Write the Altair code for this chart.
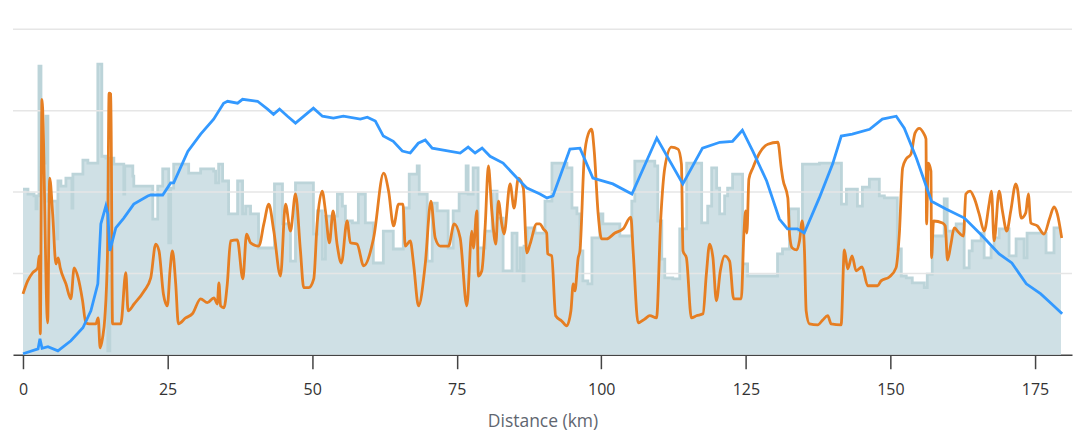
import altair as alt
import pandas as pd

# ---- grey step area (e.g. heart-rate / cadence band), value in % of chart height ----
band_km = [0.0, 0.86, 1.90, 2.24, 2.42, 2.76, 3.11, 3.97, 4.31, 5.87, 6.04, 6.56, 7.42, 8.46, 8.63,
           10.36, 11.22, 12.94, 13.63, 14.33, 14.67, 15.02, 15.71, 17.43, 17.60, 18.99, 19.16, 22.44,
           23.30, 24.16, 25.20, 25.54, 26.06, 28.65, 30.72, 32.97, 33.31, 33.83, 34.52, 35.55, 37.11,
           37.97, 38.49, 39.35, 40.73, 43.49, 44.87, 46.25, 47.12, 50.22, 50.91, 51.78, 52.30, 54.37,
           55.23, 55.75, 56.96, 57.99, 59.20, 60.58, 62.31, 64.03, 65.76, 66.79, 68.17, 68.52, 69.90,
           70.76, 71.63, 73.52, 74.39, 75.42, 76.63, 76.98, 77.84, 78.70, 79.91, 81.12, 81.98, 83.02,
           84.57, 85.43, 85.95, 86.47, 86.64, 87.16, 88.54, 90.27, 91.47, 94.06, 94.93, 95.79, 96.31,
           96.82, 97.69, 98.38, 99.76, 100.28, 103.21, 105.28, 105.80, 109.25, 109.77, 110.46, 110.98,
           112.36, 113.57, 114.77, 117.36, 118.40, 119.09, 119.95, 120.47, 121.33, 121.85, 122.71,
           124.44, 125.30, 130.48, 131.34, 132.55, 134.10, 134.79, 137.73, 141.53, 142.39, 144.29,
           145.15, 146.36, 148.08, 148.95, 151.19, 151.88, 152.74, 153.78, 155.85, 156.37, 157.23,
           159.30, 159.82, 161.37, 162.75, 163.62, 164.14, 165.69, 166.21, 167.41, 167.93, 168.80,
           170.52, 171.73, 173.11, 173.63, 176.91, 178.29, 179.50]
band_val = [50.9, 49.4, 48.8, 44.8, 48.8, 88.7, 58.9, 73.3, 47.2, 35.6, 53.4, 51.8, 54.3, 45.1, 55.5,
            59.8, 58.9, 89.3, 61.0, 60.4, 1.2, 60.4, 58.6, 49.4, 58.0, 54.9, 51.8, 41.7,
            51.8, 57.1, 34.4, 51.2, 58.6, 55.8, 57.1, 56.4, 52.8, 58.6, 53.4, 43.3, 53.4,
            43.3, 45.7, 43.3, 32.8, 52.5, 40.2, 28.8, 52.8, 37.1, 44.2, 29.4, 42.6, 49.4,
            45.7, 41.1, 40.5, 49.4, 40.5, 28.2, 38.0, 32.5, 45.1, 55.5, 58.0, 49.4, 28.8,
            46.6, 44.2, 32.8, 44.2, 49.7, 58.0, 49.4, 57.4, 32.8, 38.0, 50.3, 42.0, 25.8,
            37.4, 25.8, 32.8, 22.7, 33.4, 39.0, 37.4, 47.2, 58.9, 57.4, 45.1, 43.3, 31.9,
            22.7, 21.8, 35.9, 43.3, 40.2, 36.5, 47.2, 59.5, 58.0, 41.1, 29.4, 23.6,
            23.3, 38.7, 58.9, 40.5, 45.7, 57.4, 51.2, 43.3, 48.8, 51.2, 55.5,
            27.9, 24.2, 31.0, 32.5, 44.8, 38.0, 58.6, 58.9, 46.3, 50.9, 45.7,
            51.5, 54.0, 48.8, 48.2, 32.5, 24.2, 23.6, 22.1, 20.6, 24.8, 36.5,
            47.9, 38.0, 40.2, 26.7, 31.9, 35.0, 37.4, 29.8, 32.8, 35.9, 38.7,
            30.4, 35.6, 29.8, 37.4, 31.3, 39.0, 39.0]

# ---- blue line (elevation) ----
elev_km = [0.0, 2.6, 2.93, 3.3, 4.31, 6.04, 8.28, 10.36, 11.74, 12.94, 13.46, 14.33, 14.67, 15.02,
           16.05, 17.43, 19.16, 21.57, 22.09, 24.16, 25.54, 26.06, 28.5, 30.72, 32.97, 34.69, 35.38,
           37.11, 37.97, 40.56, 42.29, 43.32, 44.36, 45.74, 47.12, 50.22, 51.78, 53.68, 55.40, 58.34,
           59.54, 60.93, 62.31, 64.03, 65.59, 66.97, 68.35, 69.56, 70.76, 75.60, 76.98, 78.18, 79.39,
           80.77, 83.02, 85.43, 87.16, 89.40, 90.61, 91.65, 94.58, 96.31, 98.55, 102.0, 105.3, 109.6,
           114.1, 117.5, 120.5, 122.7, 124.4, 126.2, 128.6, 130.8, 132.2, 133.9, 135.1, 137.7, 140.0,
           141.5, 143.4, 146.4, 148.6, 151.0, 152.4, 154.5, 157.1, 159.6, 162.8, 165.9, 168.8, 171.0,
           173.5, 176.0, 177.9, 179.7]
elev_val = [0.3, 1.8, 4.9, 2.0, 2.5, 1.2, 4.3, 8.3, 13.5, 21.8, 40.2, 45.7, 43.3, 31.9,
            39.0, 42.0, 46.3, 48.8, 49.1, 49.1, 52.8, 52.8, 62.5, 67.8, 72.4, 77.3, 77.9,
            77.3, 78.5, 77.9, 75.5, 73.9, 75.5, 73.3, 71.2, 75.8, 73.3, 72.7, 73.3, 72.4,
            73.0, 71.8, 67.2, 65.6, 62.6, 62.0, 65.0, 66.0, 63.5, 62.0, 63.8, 62.0, 63.5,
            61.0, 58.9, 54.3, 51.2, 49.4, 48.2, 48.8, 63.2, 63.5, 54.3, 52.5, 49.4, 66.6,
            52.5, 63.5, 65.3, 65.6, 69.0, 62.6, 53.4, 41.7, 38.7, 38.7, 37.4, 48.2, 58.6,
            67.2, 67.8, 69.3, 72.4, 73.3, 69.6, 60.4, 47.2, 44.8, 42.0, 36.5, 31.0, 28.2,
            21.8, 18.7, 15.6, 12.6]

# ---- orange line (speed) ----
speed_km = [0.0, 0.81, 1.67, 2.54, 2.81, 2.99, 3.28, 4.26, 4.61, 5.13, 5.70, 6.09, 6.44, 7.42, 8.28,
            8.85, 9.54, 10.30, 10.87, 11.44, 12.60, 13.00, 13.34, 13.76, 14.15, 14.62, 14.89, 15.19,
            15.48, 16.91, 17.78, 18.17, 19.21, 20.94, 22.09, 22.95, 23.52, 24.28, 24.97, 25.42, 25.84,
            26.41, 26.87, 28.13, 29.29, 30.72, 31.88, 33.02, 33.60, 33.88, 34.17, 34.74, 35.33, 35.90,
            37.06, 38.02, 38.66, 39.35, 40.78, 41.65, 42.51, 43.37, 44.53, 45.39, 46.25, 47.12, 47.98,
            48.55, 49.41, 50.28, 50.86, 51.73, 52.30, 52.99, 53.62, 54.31, 55.06, 56.04, 56.61, 57.77,
            58.91, 60.63, 62.36, 63.22, 64.08, 64.95, 65.71, 66.10, 66.97, 67.54, 68.40, 69.56, 70.54,
            71.28, 72.14, 73.58, 74.56, 75.60, 76.75, 77.61, 77.89, 78.48, 78.75, 79.34, 79.91, 80.48,
            81.07, 81.76, 82.21, 82.79, 83.19, 84.23, 84.92, 85.66, 86.52, 87.11, 87.68, 88.83, 89.40,
            89.97, 90.56, 90.73, 91.42, 92.11, 93.15, 94.01, 94.75, 95.15, 95.44, 96.01, 96.31, 97.05,
            97.74, 98.33, 98.78, 99.46, 100.05, 100.91, 102.35, 103.78, 105.11, 105.51, 106.37, 107.53,
            108.39, 109.55, 110.29, 110.98, 112.13, 113.27, 113.86, 114.13, 114.72, 115.58, 116.45,
            117.59, 118.17, 118.74, 119.31, 119.90, 120.59, 121.33, 122.19, 122.89, 124.21, 124.66,
            124.96, 125.18, 125.53, 126.21, 127.37, 128.81, 130.53, 131.12, 131.40, 132.26, 132.55,
            133.02, 133.81, 134.28, 134.74, 135.14, 135.43, 136.00, 137.43, 138.30, 139.16, 139.75,
            141.47, 142.04, 142.61, 143.37, 144.06, 145.10, 146.07, 147.79, 148.38, 149.81, 150.97,
            151.54, 152.11, 152.70, 153.56, 154.25, 154.99, 155.73, 156.15, 156.25, 156.54, 157.01,
            157.11, 157.46, 159.01, 159.48, 159.87, 160.46, 161.03, 161.89, 162.63, 163.04, 163.79,
            164.48, 165.34, 166.21, 167.07, 167.47, 167.93, 168.80, 169.37, 170.12, 170.81, 171.68,
            171.95, 172.64, 173.40, 173.85, 174.27, 175.41, 176.56, 177.55, 178.29, 178.86, 179.62]
speed_val = [18.7, 22.7, 25.2, 26.7, 30.4, 6.4, 78.5, 9.8, 54.3, 43.3, 27.9, 29.8, 26.7, 21.8, 17.2,
             26.7, 23.6, 16.6, 9.8, 9.5, 9.5, 11.3, 2.1, 5.2, 11.3, 31.9, 80.4, 80.1,
             9.5, 9.5, 25.2, 13.5, 15.6, 19.6, 23.6, 34.0, 31.9, 18.7, 15.0, 25.8, 31.9,
             21.8, 9.5, 11.3, 12.6, 17.2, 16.0, 17.5, 15.6, 22.1, 15.0, 14.4, 21.8, 35.0,
             35.3, 23.3, 37.1, 34.4, 33.4, 40.2, 46.3, 38.0, 24.2, 46.3, 38.0, 49.4, 31.9,
             20.6, 20.6, 23.3, 40.2, 50.3, 44.2, 34.4, 44.2, 34.0, 28.2, 41.1, 34.4, 34.0,
             27.3, 35.9, 55.8, 50.3, 39.6, 46.3, 46.3, 33.4, 35.0, 27.9, 15.0, 27.9, 47.2,
             35.9, 33.4, 33.4, 40.2, 35.9, 15.0, 38.0, 32.8, 44.2, 24.2, 25.8, 39.0, 58.0,
             44.2, 34.0, 47.2, 40.2, 37.1, 52.5, 45.1, 54.3, 51.2, 31.3, 34.0, 40.2, 40.2,
             38.7, 37.4, 31.0, 30.4, 12.0, 10.4, 8.9, 13.5, 21.8, 19.6, 29.8, 31.9, 60.4,
             67.8, 69.3, 62.6, 43.3, 35.6, 35.6, 37.4, 38.7, 42.3, 31.9, 9.8, 11.0,
             12.0, 11.3, 42.0, 57.4, 63.8, 63.2, 58.6, 31.9, 29.8, 11.3, 12.0,
             12.6, 24.8, 34.0, 29.8, 16.6, 25.8, 30.4, 28.8, 17.2, 17.2, 37.1,
             44.2, 37.4, 54.0, 57.4, 62.0, 64.7, 65.3, 57.4, 54.0, 48.2, 37.1,
             32.8, 32.2, 35.0, 41.1, 31.9, 13.5, 9.5, 9.2, 10.7, 12.0, 9.5,
             9.2, 32.2, 26.4, 30.4, 25.8, 27.0, 21.2, 21.2, 22.7, 23.9, 26.7,
             37.1, 57.4, 60.1, 61.7, 68.1, 69.6, 68.1, 66.3, 40.2, 58.9, 56.4,
             29.8, 41.1, 40.5, 39.6, 29.1, 34.0, 39.0, 37.4, 36.5, 49.4, 50.3,
             48.2, 43.3, 38.0, 46.3, 50.3, 35.0, 50.3, 44.2, 38.0, 44.2, 52.5,
             51.2, 42.0, 43.6, 49.4, 40.5, 39.6, 37.1, 42.0, 45.4, 43.3, 35.9]

grid_vals = [25, 50, 75, 100]
x_ticks = [0, 25, 50, 75, 100, 125, 150, 175]

band = pd.DataFrame({"km": band_km, "v": band_val})
elev = pd.DataFrame({"km": elev_km, "v": elev_val})
speed = pd.DataFrame({"km": speed_km, "v": speed_val})
grid = pd.DataFrame({"g": grid_vals})

xs = alt.Scale(domain=[-1.73, 181.4], nice=False, zero=False)
ys = alt.Scale(domain=[0, 100], nice=False)

x_enc = alt.X("km:Q", scale=xs,
              axis=alt.Axis(values=x_ticks, title="Distance (km)", grid=False,
                            tickSize=14, tickColor="#444", domainColor="#444",
                            domainWidth=1.5, tickWidth=1.5,
                            labelFontSize=16, labelColor="#333", labelPadding=13,
                            labelFont="Open Sans", titleFont="Open Sans",
                            titleFontSize=17.5, titleColor="#5f6670", titleFontWeight="normal",
                            titlePadding=15))
y_enc = alt.Y("v:Q", scale=ys, axis=None)

area = alt.Chart(band).mark_area(interpolate="step-after", color="#cfe0e5").encode(x=x_enc, y=y_enc)
area_top = alt.Chart(band).mark_line(interpolate="step-after", color="#bcd4d9", strokeWidth=2.8).encode(
    x=alt.X("km:Q", scale=xs), y=alt.Y("v:Q", scale=ys, axis=None))
rules = alt.Chart(grid).mark_rule(color="#e6e6e6", strokeWidth=1.5).encode(
    y=alt.Y("g:Q", scale=ys, axis=None))
orange = alt.Chart(speed).mark_line(interpolate="monotone", color="#e67e22", strokeWidth=2.8).encode(
    x=alt.X("km:Q", scale=xs), y=alt.Y("v:Q", scale=ys, axis=None))
blue = alt.Chart(elev).mark_line(color="#3399ff", strokeWidth=2.8).encode(
    x=alt.X("km:Q", scale=xs), y=alt.Y("v:Q", scale=ys, axis=None))

chart = alt.layer(area, area_top, rules, orange, blue).properties(
    width=1061, height=326,
    padding={"left": 4, "top": 20, "right": 0, "bottom": 0},
).configure(font="Open Sans").configure_view(stroke=None, strokeWidth=0)

chart.save("out.html", embed_options={"renderer": "svg", "actions": False})
